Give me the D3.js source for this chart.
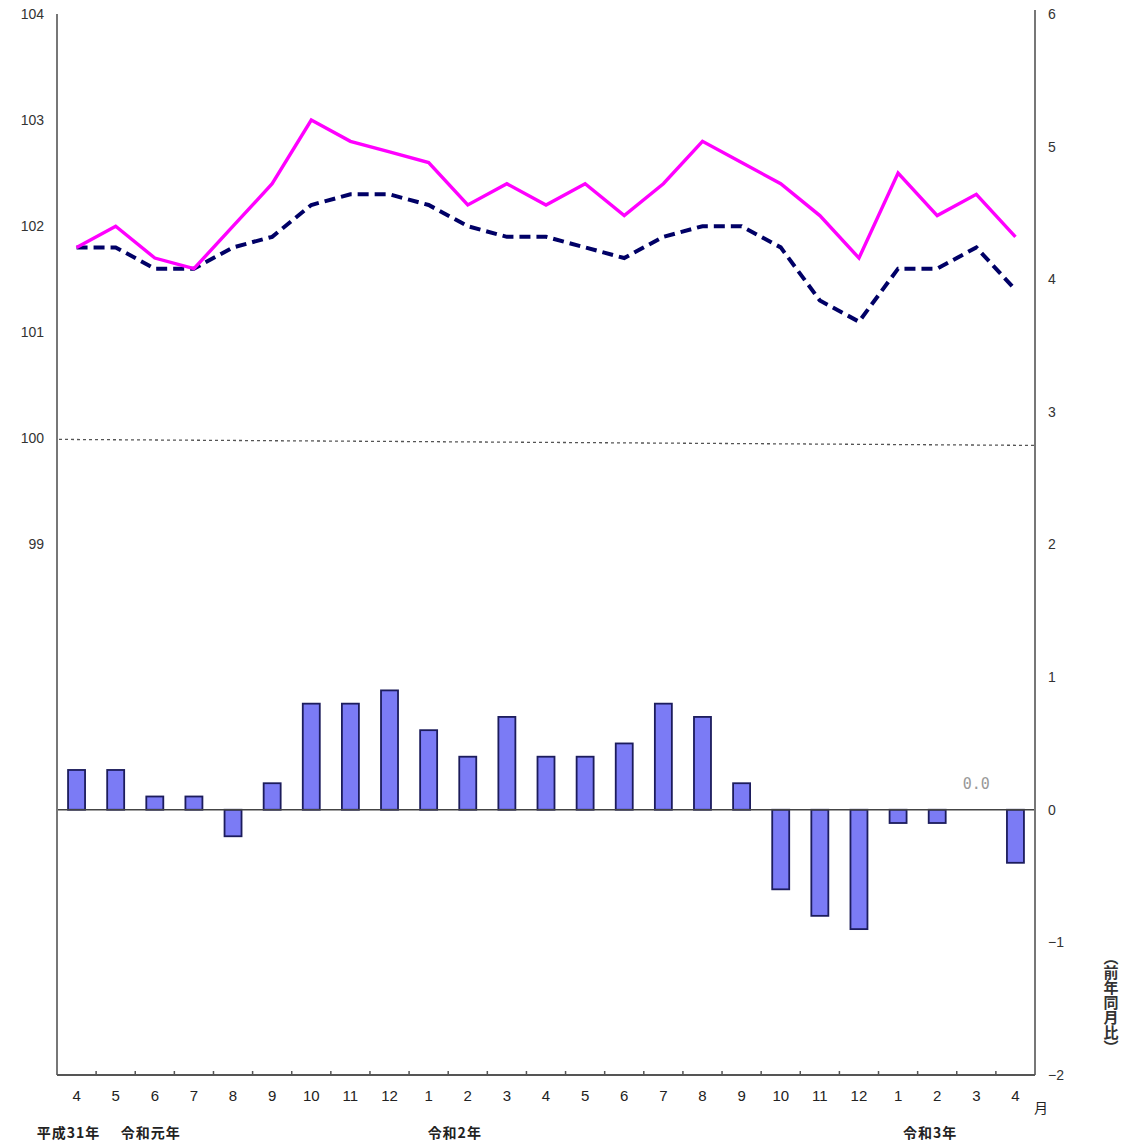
<!DOCTYPE html>
<html>
<head>
<meta charset="utf-8">
<script src="https://cdn.jsdelivr.net/npm/d3@7"></script>
<style>
  body { margin: 0; background: #fff; }
  text { font-family: Arial, "Liberation Sans", "Noto Sans CJK JP", sans-serif; }
</style>
</head>
<body>
<div id="chart"></div>
<script>
// Months (Apr 2019 - Apr 2021)
var months = ['4', '5', '6', '7', '8', '9', '10', '11', '12', '1', '2', '3', '4', '5', '6', '7', '8', '9', '10', '11', '12', '1', '2', '3', '4']
// Index series (left axis)
var indexSolid = [101.8, 102.0, 101.7, 101.6, 102.0, 102.4, 103.0, 102.8, 102.7, 102.6, 102.2, 102.4, 102.2, 102.4, 102.1, 102.4, 102.8, 102.6, 102.4, 102.1, 101.7, 102.5, 102.1, 102.3, 101.9]
var indexDashed = [101.8, 101.8, 101.6, 101.6, 101.8, 101.9, 102.2, 102.3, 102.3, 102.2, 102.0, 101.9, 101.9, 101.8, 101.7, 101.9, 102.0, 102.0, 101.8, 101.3, 101.1, 101.6, 101.6, 101.8, 101.4]
// Year-on-year change (right axis)
var yoy = [0.3, 0.3, 0.1, 0.1, -0.2, 0.2, 0.8, 0.8, 0.9, 0.6, 0.4, 0.7, 0.4, 0.4, 0.5, 0.8, 0.7, 0.2, -0.6, -0.8, -0.9, -0.1, -0.1, 0.0, -0.4]
var leftTicks = [99, 100, 101, 102, 103, 104]
var rightTicks = [-2, -1, 0, 1, 2, 3, 4, 5, 6]
var yearLabels = [
  { i: 0, text: '平成31年', dx: -8 },
  { i: 2, text: '令和元年', dx: -4 },
  { i: 10, text: '令和2年', dx: -13 },
  { i: 22, text: '令和3年', dx: -7 }
]

var width = 1122
var height = 1145
var mLeft = 57, mRight = 1035, mTop = 14, mBottom = 1075

var svg = d3.select('#chart').append('svg')
  .attr('width', width)
  .attr('height', height)

var x = d3.scaleBand().domain(d3.range(months.length)).range([mLeft, mRight]).padding(0)
var yL = d3.scaleLinear().domain([94, 104]).range([mBottom, mTop])
var yR = d3.scaleLinear().domain([-2, 6]).range([mBottom, mTop])
var cx = function (i) { return x(i) + x.bandwidth() / 2 }

// 100 reference line
svg.append('line')
  .attr('x1', mLeft + 2).attr('x2', mRight)
  .attr('y1', yL(100) + 1).attr('y2', yL(100) + 7)
  .attr('stroke', '#555').attr('stroke-width', 1.3)
  .attr('stroke-dasharray', '3,3')

// Bars
var barW = 17
svg.selectAll('.bar')
  .data(yoy)
  .enter().append('rect')
  .attr('class', 'bar')
  .attr('x', function (d, i) { return cx(i) - barW / 2 })
  .attr('y', function (d) { return yR(Math.max(0, d)) })
  .attr('width', barW)
  .attr('height', function (d) { return Math.abs(yR(d) - yR(0)) })
  .attr('fill', '#7b7bf5')
  .attr('stroke', '#1c1c5c')
  .attr('stroke-width', 1.8)

// Zero line
svg.append('line')
  .attr('x1', mLeft).attr('x2', mRight)
  .attr('y1', yR(0)).attr('y2', yR(0))
  .attr('stroke', '#444').attr('stroke-width', 1.5)

svg.append('text')
  .attr('x', cx(23)).attr('y', yR(0) - 21)
  .attr('text-anchor', 'middle')
  .attr('fill', '#999')
  .style('font-family', '"DejaVu Sans Mono", monospace')
  .style('font-size', '15px')
  .text('0.0')

// Lines
var line = function (ys) {
  return d3.line().x(function (d, i) { return cx(i) }).y(function (d) { return yL(d) })(ys)
}
svg.append('path')
  .attr('d', line(indexDashed))
  .attr('fill', 'none')
  .attr('stroke', '#000066')
  .attr('stroke-width', 4)
  .attr('stroke-dasharray', '11,6')
svg.append('path')
  .attr('d', line(indexSolid))
  .attr('fill', 'none')
  .attr('stroke', '#ff00ff')
  .attr('stroke-width', 3.4)

// Axes lines
svg.append('line').attr('x1', mLeft).attr('x2', mLeft).attr('y1', mTop).attr('y2', mBottom)
  .attr('stroke', '#777').attr('stroke-width', 2)
svg.append('line').attr('x1', mRight).attr('x2', mRight).attr('y1', 10).attr('y2', mBottom)
  .attr('stroke', '#777').attr('stroke-width', 2)
svg.append('line').attr('x1', mLeft).attr('x2', mRight).attr('y1', mBottom).attr('y2', mBottom)
  .attr('stroke', '#555').attr('stroke-width', 2)

// Bottom ticks at band boundaries
svg.selectAll('.xtick')
  .data(d3.range(1, months.length))
  .enter().append('line')
  .attr('x1', function (d) { return x(d) }).attr('x2', function (d) { return x(d) })
  .attr('y1', mBottom).attr('y2', mBottom - 4)
  .attr('stroke', '#555').attr('stroke-width', 1.5)

// Left tick labels
svg.selectAll('.ly')
  .data(leftTicks)
  .enter().append('text')
  .attr('x', 44).attr('y', function (d) { return yL(d) })
  .attr('dy', '0.35em')
  .attr('text-anchor', 'end')
  .attr('fill', '#333')
  .style('font-size', '14px')
  .text(function (d) { return d })

// Right tick labels
svg.selectAll('.ry')
  .data(rightTicks)
  .enter().append('text')
  .attr('x', 1048).attr('y', function (d) { return yR(d) })
  .attr('dy', '0.35em')
  .attr('fill', '#333')
  .style('font-size', '14px')
  .text(function (d) { return d < 0 ? '\u2212' + Math.abs(d) : d })

// Month labels
svg.selectAll('.xl')
  .data(months)
  .enter().append('text')
  .attr('x', function (d, i) { return cx(i) }).attr('y', 1101)
  .attr('text-anchor', 'middle')
  .attr('fill', '#222')
  .style('font-size', '15px')
  .text(function (d) { return d })

svg.append('text')
  .attr('x', 1034).attr('y', 1113)
  .attr('fill', '#222')
  .style('font-size', '14px')
  .style('font-family', '"Noto Sans CJK JP", sans-serif')
  .text('月')

// Year labels
svg.selectAll('.yr')
  .data(yearLabels)
  .enter().append('text')
  .attr('x', function (d) { return cx(d.i) + d.dx })
  .attr('y', 1138)
  .attr('text-anchor', 'middle')
  .attr('fill', '#222')
  .style('font-size', '14px')
  .style('letter-spacing', '1px')
  .style('font-weight', 'bold')
  .style('font-family', '"Noto Sans CJK JP", sans-serif')
  .text(function (d) { return d.text })

// Right axis title (vertical)
svg.append('text')
  .attr('x', 1111).attr('y', 950)
  .attr('fill', '#333')
  .style('writing-mode', 'vertical-rl')
  .style('font-size', '15px')
  .style('font-weight', 'bold')
  .style('font-family', '"Noto Sans CJK JP", sans-serif')
  .text('（前年同月比）')
</script>
</body>
</html>
